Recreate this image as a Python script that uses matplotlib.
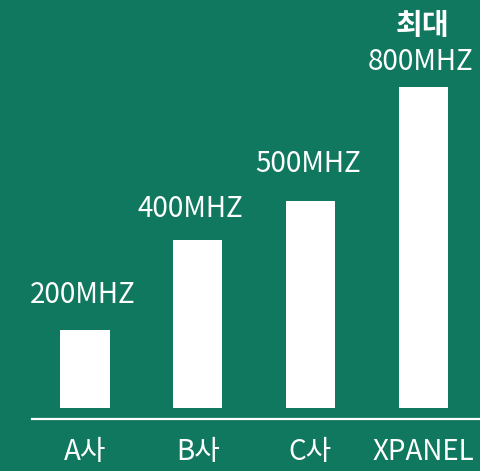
import matplotlib
matplotlib.use("Agg")
import matplotlib.pyplot as plt

plt.rcParams['font.family'] = ['Noto Sans CJK KR', 'DejaVu Sans']

companies = ["A사", "B사", "C사", "XPANEL"]
speeds = [194, 419, 516, 801]          # bar heights (MHz)
speed_labels = ["200MHZ", "400MHZ", "500MHZ", "800MHZ"]
top_note = "최대"

bg = "#0f785f"
px = 0.4  # pixels per MHz

fig = plt.figure(figsize=(4.8, 4.71), dpi=100, facecolor=bg)
ax = fig.add_axes([0, 0, 1, 1])
ax.set_facecolor(bg)
ax.set_xlim(-85 / 112.67, (480 - 85) / 112.67)
ax.set_ylim(-63.5 / px, (471 - 63.5) / px)
ax.axis("off")

x = range(len(companies))
ax.bar(x, speeds, width=0.435, color="white", zorder=2)

# baseline under the bars
ax.axhline((52 - 63.5) / px, xmin=31.7 / 480, xmax=1, color="white", lw=1.6)

label_gap = [27, 23, 29, 17]  # pixels between bar top and label
label_shift = [-2, -5, -2, -1.5]
for i, (v, lab) in enumerate(zip(speeds, speed_labels)):
    ax.annotate(lab, (i, v), xytext=(label_shift[i], label_gap[i] * 0.72),
                textcoords="offset points", ha="center", va="baseline",
                color="white", fontsize=20)
    ax.text(i, (19 - 63.5) / px, companies[i], ha="center", va="center",
            color="white", fontsize=20)

ax.annotate(top_note, (3, speeds[3]), xytext=(0, 53 * 0.72),
            textcoords="offset points", ha="center", va="baseline",
            color="white", fontsize=21, fontweight="bold")

fig.savefig("out.png", dpi=100, facecolor=bg)
